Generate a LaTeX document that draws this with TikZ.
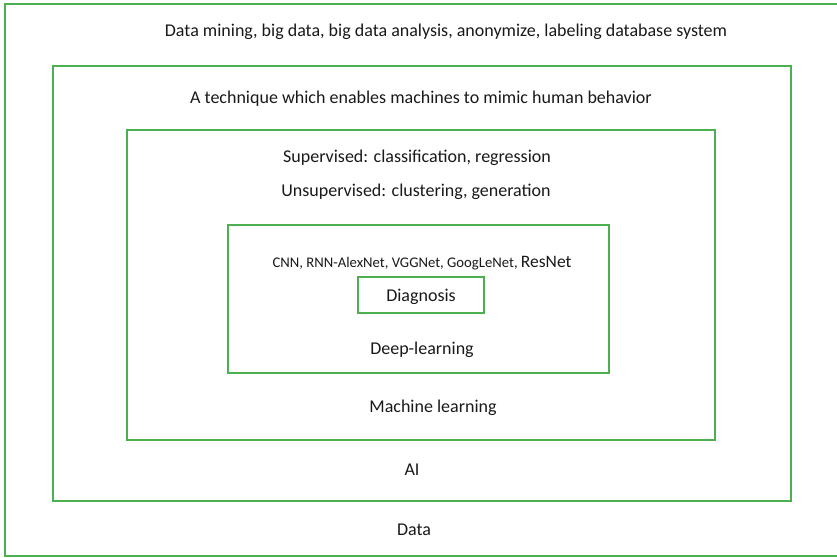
\documentclass[tikz,border=0pt]{standalone}
\usepackage{fontspec}
\setmainfont{Carlito}
\definecolor{boxgreen}{RGB}{76,175,80}
\tikzset{
  frame/.style={draw=boxgreen, line width=2pt, inner sep=0pt, outer sep=0pt},
  lbl/.style={font=\fontsize{18}{21}\selectfont, text=black!90, inner sep=0pt, anchor=center}
}
\begin{document}
\begin{tikzpicture}[x=1pt,y=-1pt]
  \useasboundingbox (0,0) rectangle (837,557);
  % nested frames (outer one runs past the right edge)
  \node[frame, minimum width=840pt, minimum height=552pt] (fdata) at (425,280) {};
  \node[frame, minimum width=738pt, minimum height=435pt] (fai) at (422,283.5) {};
  \node[frame, minimum width=588pt, minimum height=310pt] (fml) at (421,285) {};
  \node[frame, minimum width=381pt, minimum height=148pt] (fdl) at (418.5,299) {};
  \node[frame, minimum width=126pt, minimum height=36pt] (fdiag) at (421,295) {};
  % labels
  \node[lbl] (data) at (446,32) {Data mining, big data, big data analysis, anonymize, labeling database system};
  \node[lbl] (ai) at (421,99) {A technique which enables machines to mimic human behavior};
  \node[lbl] (sup) at (417,158) {Supervised: classification, regression};
  \node[lbl] (uns) at (416,192) {Unsupervised: clustering, generation};
  \node[lbl, font=\fontsize{14.7}{17}\selectfont] (cnn) at (422,263) {CNN, RNN-AlexNet, VGGNet, GoogLeNet, {\fontsize{17.5}{20}\selectfont ResNet}};
  \node[lbl] (diag) at (421,297) {Diagnosis};
  \node[lbl] (dl) at (422,350) {Deep-learning};
  \node[lbl] (ml) at (433,408) {Machine learning};
  \node[lbl] (ait) at (412,470) {AI};
  \node[lbl] (dat) at (414,530) {Data};
\end{tikzpicture}
\end{document}
